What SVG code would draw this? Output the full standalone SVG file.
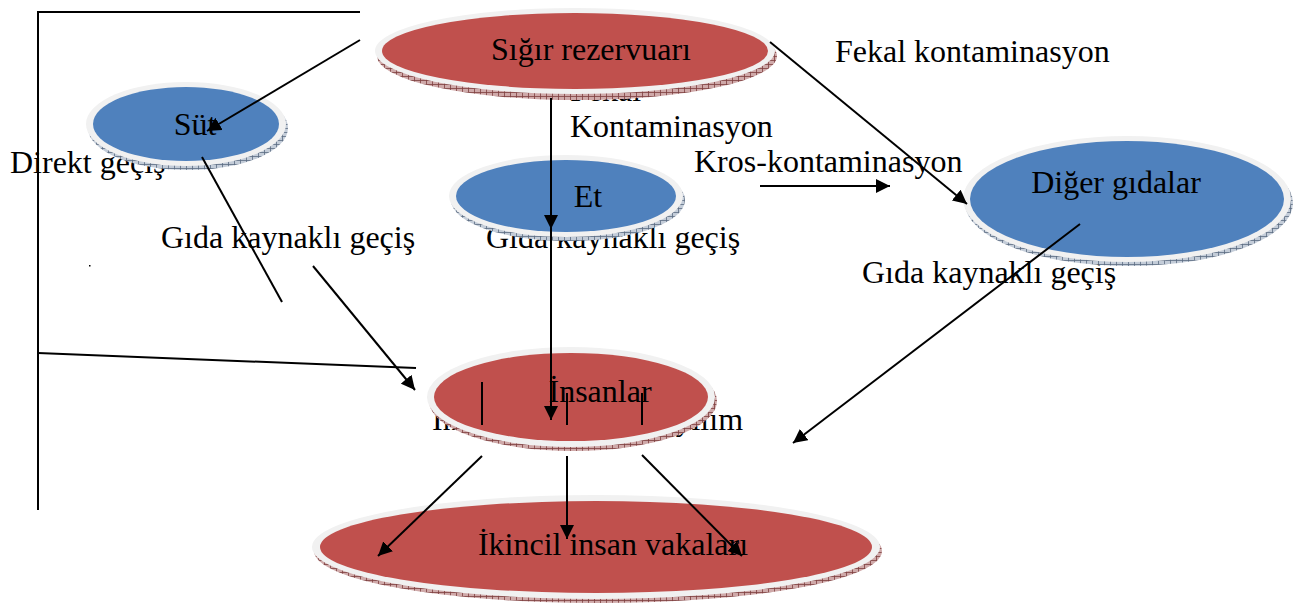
<svg xmlns="http://www.w3.org/2000/svg" width="1300" height="610" viewBox="0 0 1300 610">
  <style>
    text { font-family: "Liberation Serif", "Times New Roman", serif; font-size: 32px; fill: #000; }
    .rim { fill: #f1f1f1; }
    .red { fill: #c0504d; }
    .blue { fill: #4f81bd; }
    .shR { fill: url(#hatchRed); }
    .shB { fill: url(#hatchBlue); }
    .ln { stroke: #000; stroke-width: 2; fill: none; }
    .arr { stroke: #000; stroke-width: 2; fill: none; marker-end: url(#head); }
  </style>
  <defs>
    <marker id="head" viewBox="0 0 10 10" refX="10" refY="5" markerWidth="14" markerHeight="14" markerUnits="userSpaceOnUse" orient="auto">
      <path d="M0,0 L10,5 L0,10 Z" fill="#000"/>
    </marker>
    <pattern id="hatchRed" width="6" height="4" patternUnits="userSpaceOnUse">
      <rect width="6" height="4" fill="#cfa9a9"/>
      <path d="M0,0.5 H6 M0.5,0 V4" stroke="#7e3f3f" stroke-width="0.8"/>
    </pattern>
    <pattern id="hatchBlue" width="6" height="4" patternUnits="userSpaceOnUse">
      <rect width="6" height="4" fill="#c3ccd8"/>
      <path d="M0,0.5 H6 M0.5,0 V4" stroke="#5b6b82" stroke-width="0.8"/>
    </pattern>
  </defs>

  <!-- free-standing labels (some sit under the ellipses) -->
  <g id="labels">
    <text x="570" y="101">Fekal</text>
    <text x="835" y="62">Fekal kontaminasyon</text>
    <text x="570" y="137">Kontaminasyon</text>
    <text x="10" y="173">Direkt geçiş</text>
    <text x="694" y="172">Kros-kontaminasyon</text>
    <text x="161" y="248">Gıda kaynaklı geçiş</text>
    <text x="486" y="248">Gıda kaynaklı geçiş</text>
    <text x="862" y="283">Gıda kaynaklı geçiş</text>
    <text x="432" y="430">İnsandan insana yayılım</text>
  </g>

  <g id="node-sigir">
    <ellipse class="shR" cx="577" cy="56" rx="200" ry="44"/>
    <ellipse class="rim" cx="575" cy="51" rx="200" ry="43"/>
    <ellipse class="red" cx="575" cy="51" rx="193" ry="38"/>
    <text x="591" y="60" text-anchor="middle">Sığır rezervuarı</text>
  </g>

  <g id="node-sut">
    <ellipse class="shB" cx="188" cy="128" rx="100" ry="42"/>
    <ellipse class="rim" cx="186" cy="124" rx="100" ry="42"/>
    <ellipse class="blue" cx="186" cy="124" rx="93" ry="37"/>
    <text x="195" y="135" text-anchor="middle">Süt</text>
  </g>

  <g id="node-et">
    <ellipse class="shB" cx="568" cy="200" rx="117" ry="41"/>
    <ellipse class="rim" cx="566" cy="196" rx="117" ry="41"/>
    <ellipse class="blue" cx="566" cy="196" rx="110" ry="36"/>
    <text x="588" y="207" text-anchor="middle">Et</text>
  </g>

  <g id="node-diger">
    <ellipse class="shB" cx="1129" cy="203" rx="164" ry="63"/>
    <ellipse class="rim" cx="1127" cy="199" rx="164" ry="63"/>
    <ellipse class="blue" cx="1127" cy="199" rx="157" ry="58"/>
    <text x="1116" y="193" text-anchor="middle">Diğer gıdalar</text>
  </g>

  <g id="node-insanlar">
    <ellipse class="shR" cx="573" cy="401" rx="144" ry="50"/>
    <ellipse class="rim" cx="571" cy="397" rx="144" ry="50"/>
    <ellipse class="red" cx="571" cy="397" rx="137" ry="44"/>
    <text x="600" y="402" text-anchor="middle">İnsanlar</text>
  </g>

  <g id="node-ikincil">
    <ellipse class="shR" cx="598" cy="551" rx="284" ry="52"/>
    <ellipse class="rim" cx="596" cy="547" rx="284" ry="52"/>
    <ellipse class="red" cx="596" cy="547" rx="276" ry="46"/>
    <text x="613" y="555" text-anchor="middle">İkincil insan vakaları</text>
  </g>

  <g id="connectors">
    <!-- left frame -->
    <polyline class="ln" points="360,12 38,12 38,510"/>
    <line class="ln" x1="38" y1="353" x2="416" y2="368"/>
    <rect x="89" y="265" width="1.5" height="1.5" fill="#000"/>

    <!-- from the cattle reservoir -->
    <line class="arr" x1="360" y1="40" x2="207" y2="131"/>
    <line class="arr" x1="551" y1="98" x2="551" y2="229"/>
    <line class="arr" x1="551" y1="229" x2="551" y2="420"/>
    <line class="arr" x1="770" y1="42" x2="967" y2="204"/>

    <!-- milk and foodborne paths -->
    <line class="ln" x1="202" y1="157" x2="282" y2="302"/>
    <line class="arr" x1="313" y1="266" x2="415" y2="390"/>
    <line class="arr" x1="760" y1="186" x2="890" y2="186"/>
    <line class="arr" x1="1080" y1="224" x2="793" y2="443"/>

    <!-- ticks inside the humans node -->
    <line class="ln" x1="482" y1="382" x2="482" y2="425"/>
    <line class="ln" x1="567" y1="393" x2="567" y2="425"/>
    <line class="ln" x1="642" y1="393" x2="642" y2="425"/>

    <!-- to secondary human cases -->
    <line class="arr" x1="482" y1="456" x2="378" y2="556"/>
    <line class="arr" x1="567" y1="456" x2="567" y2="539"/>
    <line class="arr" x1="642" y1="455" x2="742" y2="556"/>
  </g>
</svg>
